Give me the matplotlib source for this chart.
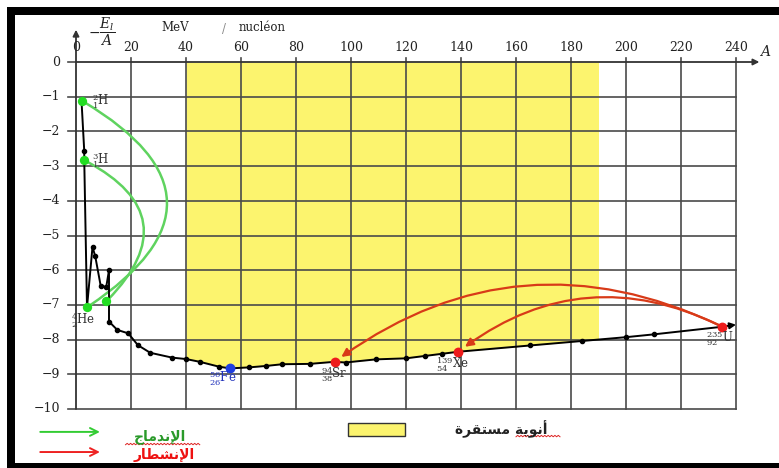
import numpy as np
import matplotlib.pyplot as plt
from matplotlib.patches import FancyArrowPatch, Rectangle

plt.rcParams['mathtext.fontset'] = 'dejavuserif'

# binding energy per nucleon curve
curve_A = [2, 3, 3, 4, 6, 7, 9, 11, 12, 12, 15, 19, 22.5, 27, 35, 40, 45, 52, 56,
           63, 69, 75, 85, 94, 98, 109, 120, 127, 133, 139, 165, 184, 200, 210, 235]
curve_E = [-1.11, -2.57, -2.83, -7.07, -5.33, -5.6, -6.46, -6.48, -6.0, -7.48, -7.72,
           -7.82, -8.16, -8.38, -8.52, -8.56, -8.64, -8.78, -8.83, -8.8, -8.76, -8.71,
           -8.70, -8.64, -8.66, -8.57, -8.54, -8.47, -8.41, -8.35, -8.17, -8.04, -7.93,
           -7.85, -7.63]
curve_tip = (240, -7.57)

# special nuclei
fusion_A = [2, 3, 4, 11]
fusion_E = [-1.11, -2.83, -7.07, -6.9]
fe = (56, -8.83)
fission_A = [94, 139, 235]          # Sr, Xe, U
fission_E = [-8.64, -8.35, -7.63]

x_ticks = list(range(0, 241, 20))
y_ticks = list(range(0, -11, -1))
stable_range = (40, 190)

fig = plt.figure(figsize=(7.79, 4.68), dpi=100)
ax = fig.add_axes([20 / 779, 3 / 468, 759 / 779, 443 / 468])
ax.set_xlim((20 - 76) / 2.75, (779 - 76) / 2.75)
ax.set_ylim(-(465 - 62) / 34.7, (62 - 22) / 34.7)
ax.axis('off')

# black frame (left, top, bottom) around the picture
for xy, w, h in [((7 / 779, 0), 8 / 779, 461 / 468),
                 ((7 / 779, 453 / 468), 772 / 779, 8 / 468),
                 ((7 / 779, 0), 772 / 779, 5 / 468)]:
    fig.patches.append(Rectangle(xy, w, h, transform=fig.transFigure,
                                 fc='black', ec='none'))

# yellow zone of stable nuclei (above the curve)
tail_A = np.array(curve_A[9:])
tail_E = np.array(curve_E[9:])
fx = np.concatenate([[stable_range[0]],
                     tail_A[(tail_A > stable_range[0]) & (tail_A < stable_range[1])],
                     [stable_range[1]]])
fy = np.interp(fx, tail_A, tail_E)
ax.fill_between(fx, fy, 0, color='#fcf46e', lw=0, zorder=0)

# grid
grid_c = '#4a4a4a'
for a in x_ticks[1:]:
    ax.plot([a, a], [-10, 0.12], color=grid_c, lw=1.2, zorder=1)
for e in y_ticks[1:]:
    ax.plot([-3, 240], [e, e], color=grid_c, lw=1.2, zorder=1)
ax.plot([-3, 0], [0, 0], color=grid_c, lw=1.2, zorder=1)

# axes with arrows
ax.annotate('', xy=(248.5, 0), xytext=(0, 0),
            arrowprops=dict(arrowstyle='-|>', color='#333333', lw=1.3,
                            mutation_scale=9, shrinkA=0, shrinkB=0), zorder=2)
ax.annotate('', xy=(0, 0.93), xytext=(0, -10),
            arrowprops=dict(arrowstyle='-|>', color='#333333', lw=1.3,
                            mutation_scale=9, shrinkA=0, shrinkB=0), zorder=2)

for a in x_ticks:
    ax.text(a, 0.43, str(a), ha='center', va='center', fontsize=9,
            family='DejaVu Serif', color='#222222')
for e in y_ticks:
    ax.text(-5.8, e, '\u2212' + str(-e) if e else '0', ha='right', va='center',
            fontsize=9, family='DejaVu Serif', color='#222222')

ax.text(250.5, 0.3, '$A$', fontsize=10, ha='center', va='center', color='#222222')
ax.text(4.5, 0.88, r'$-\dfrac{E_l}{A}$', fontsize=10, ha='left', va='center',
        color='#222222')
ax.text(31, 0.98, 'MeV', fontsize=8.5, family='DejaVu Serif', ha='left',
        va='center', color='#222222')
ax.text(53, 0.95, '/', fontsize=8.5, family='DejaVu Serif', ha='left',
        va='center', color='#888888')
ax.text(59, 0.98, 'nucléon', fontsize=8.5, family='DejaVu Serif', ha='left',
        va='center', color='#222222')

# curve
ax.plot(curve_A, curve_E, color='black', lw=1.4, marker='o', ms=3, zorder=4)
ax.annotate('', xy=curve_tip, xytext=(curve_A[-1], curve_E[-1]),
            arrowprops=dict(arrowstyle='-|>', color='black', lw=1.4,
                            mutation_scale=9, shrinkA=0, shrinkB=0), zorder=4)

# fusion arcs
arc1 = FancyArrowPatch((fusion_A[0], fusion_E[0]), (fusion_A[2], fusion_E[2]),
                       connectionstyle='arc3,rad=-0.8', arrowstyle='-',
                       color='#5fd35f', lw=1.8, zorder=3)
arc2 = FancyArrowPatch((fusion_A[1], fusion_E[1]), (fusion_A[3], fusion_E[3]),
                       connectionstyle='arc3,rad=-0.68', arrowstyle='-',
                       color='#5fd35f', lw=1.8, zorder=3)
ax.add_patch(arc1)
ax.add_patch(arc2)
ax.scatter(fusion_A, fusion_E, s=45, color='#22dd22', zorder=5, lw=0)

# fission arcs
red_arc = '#d83a18'
for a, e, rad in [(fission_A[0], fission_E[0], 0.3), (fission_A[1], fission_E[1], 0.31)]:
    ax.add_patch(FancyArrowPatch((fission_A[2], fission_E[2]), (a, e),
                                 connectionstyle='arc3,rad=%s' % rad,
                                 arrowstyle='-|>', mutation_scale=12,
                                 color=red_arc, lw=1.6, shrinkA=3, shrinkB=6,
                                 zorder=3))
ax.scatter(fission_A, fission_E, s=50, color='#ee1c1c', zorder=5, lw=0)
ax.scatter([fe[0]], [fe[1]], s=50, color='#1f3fe0', zorder=5, lw=0)

# nuclide labels
lab = dict(fontsize=8.5, color='#333333', family='DejaVu Serif', zorder=6)
ax.text(6, -1.12, r'${}^{2}_{1}\mathrm{H}$', ha='left', va='center', **lab)
ax.text(6, -2.84, r'${}^{3}_{1}\mathrm{H}$', ha='left', va='center', **lab)
ax.text(-1.8, -7.45, r'${}^{4}_{2}\mathrm{He}$', ha='left', va='center', **lab)
ax.text(fe[0] - 2.5, -9.1, r'${}^{56}_{26}\mathrm{Fe}$', ha='center', va='center',
        fontsize=8.5, color='#2233bb', family='DejaVu Serif', zorder=6)
ax.text(89, -9.0, r'${}^{94}_{38}\mathrm{Sr}$', ha='left', va='center', **lab)
ax.text(131, -8.72, r'${}^{139}_{54}\mathrm{Xe}$', ha='left', va='center', **lab)
ax.text(229, -7.95, r'${}^{235}_{92}\mathrm{U}$', ha='left', va='center', **lab)

# legend (Arabic written in presentation forms, visual order)
fusion_txt = '\uFE9D\uFE8E\uFEE3\uFEAA\uFEE7\uFEF9\uFE8D'
fission_txt = '\uFEAD\uFE8E\uFEC4\uFEB8\uFEE7\uFEF9\uFE8D'
stable_txt = '\uFE93\uFEAE\uFED8\uFE98\uFEB4\uFEE3 \uFE94\uFEF3\uFEEE\uFEE7\uFE83'

ax.annotate('', xy=(8.7, -10.66), xytext=(-13, -10.66),
            arrowprops=dict(arrowstyle='->', color='#33cc33', lw=1.4,
                            mutation_scale=14, shrinkA=0, shrinkB=0))
ax.annotate('', xy=(8.7, -11.24), xytext=(-13, -11.24),
            arrowprops=dict(arrowstyle='->', color='#ee2222', lw=1.4,
                            mutation_scale=14, shrinkA=0, shrinkB=0))
ax.text(30.5, -10.8, fusion_txt, ha='center', va='center', fontsize=10,
        weight='bold', color='#2a9a2a', family='DejaVu Sans')
ax.text(32, -11.33, fission_txt, ha='center', va='center', fontsize=10,
        weight='bold', color='#ee1111', family='DejaVu Sans')
ax.add_patch(Rectangle((99, -10.78), 20.7, 0.38, fc='#fcf46e', ec='#333333',
                       lw=1.0, clip_on=False))
ax.text(154.5, -10.58, stable_txt, ha='center', va='center', fontsize=10,
        weight='bold', color='#222222', family='DejaVu Sans')

# spell-check squiggles under the Arabic words
def squiggle(x0, x1, y):
    xs = np.linspace(x0, x1, int((x1 - x0) * 1.6) + 2)
    ys = y + 0.04 * (np.arange(len(xs)) % 2)
    ax.plot(xs, ys, color='#dd2222', lw=0.7, clip_on=False)

squiggle(18, 45, -11.03)
squiggle(160, 176, -10.8)

fig.savefig('out.png', dpi=100)
